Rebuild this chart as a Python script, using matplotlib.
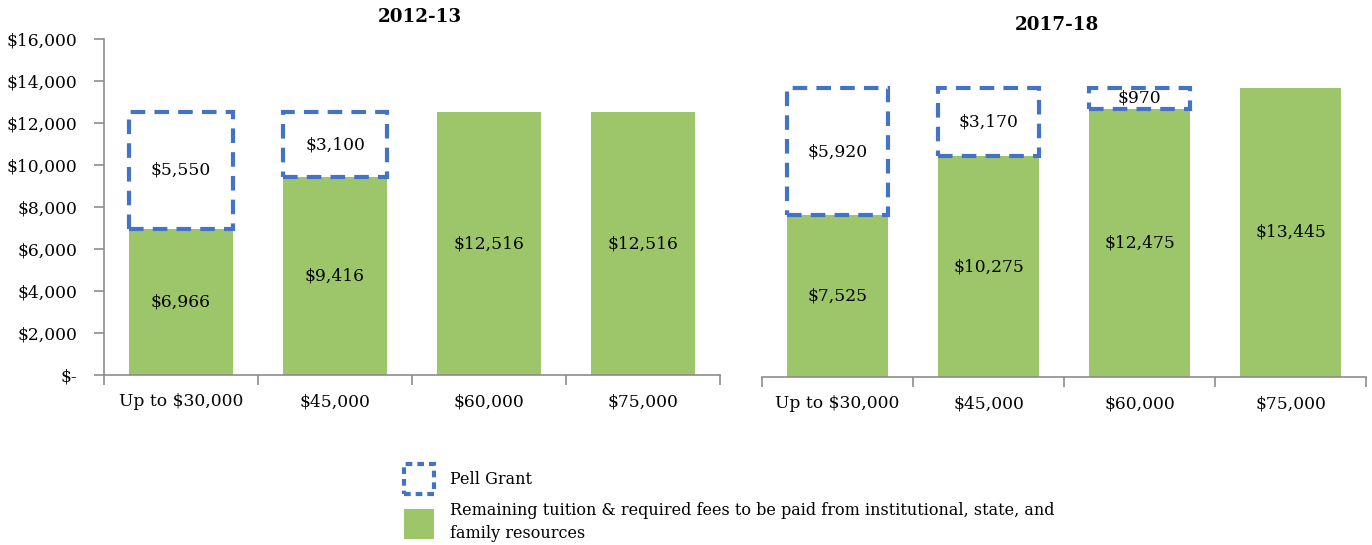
import matplotlib.pyplot as plt
from matplotlib.patches import Patch
from matplotlib.ticker import FuncFormatter

plt.rcParams['font.family'] = ['DejaVu Serif']

categories = ['Up to $30,000', '$45,000', '$60,000', '$75,000']
remaining_2012 = [6966, 9416, 12516, 12516]
pell_2012 = [5550, 3100, 0, 0]
remaining_2017 = [7525, 10275, 12475, 13445]
pell_2017 = [5920, 3170, 970, 0]

GREEN = '#9DC66B'
BLUE = '#4472C4'
AXIS = '#8C8C8C'
FS = 12.3

fig = plt.figure(figsize=(13.72, 5.45), dpi=100)
ax1 = fig.add_axes([104 / 1372, 170 / 545, 616 / 1372, 336 / 545])
ax2 = fig.add_axes([762 / 1372, 168 / 545, 604 / 1372, 344 / 545])


def draw_panel(ax, remaining, pell):
    x = list(range(len(categories)))
    ax.bar(x, remaining, width=0.675, color=GREEN, zorder=2)
    for i, (r, p) in enumerate(zip(remaining, pell)):
        ax.text(i, r / 2, f'${r:,}', ha='center', va='center', fontsize=FS, zorder=4)
        if p > 0:
            ax.bar(i, p, bottom=r, width=0.675, fill=False, edgecolor=BLUE,
                   linestyle=(0, (3.5, 2.2)), linewidth=3, zorder=3)
            ax.text(i, r + p / 2, f'${p:,}', ha='center', va='center', fontsize=FS, zorder=4)
    ax.set_xlim(-0.5, len(categories) - 0.5)
    ax.set_ylim(0, 16000)
    ax.set_xticks(x)
    ax.set_xticklabels(categories, fontsize=FS)
    ax.set_xticks([i - 0.5 for i in range(len(categories) + 1)], minor=True)
    ax.tick_params(axis='x', which='major', length=0, pad=13)
    ax.tick_params(axis='x', which='minor', length=7, color=AXIS, width=1.2)
    for s in ['top', 'right']:
        ax.spines[s].set_visible(False)
    ax.spines['bottom'].set_color(AXIS)
    ax.spines['bottom'].set_linewidth(1.2)


draw_panel(ax1, remaining_2012, pell_2012)
draw_panel(ax2, remaining_2017, pell_2017)

ax1.set_yticks(range(0, 16001, 2000))
ax1.yaxis.set_major_formatter(FuncFormatter(lambda v, _: '$-' if v == 0 else f'${v:,.0f}'))
ax1.tick_params(axis='y', labelsize=FS, length=7, color=AXIS, width=1.2, pad=12)
ax1.spines['left'].set_color(AXIS)
ax1.spines['left'].set_linewidth(1.2)

ax2.spines['left'].set_visible(False)
ax2.set_yticks([])

fig.text(420 / 1372, 1 - 17 / 545, '2012-13', ha='center', va='center', fontsize=13.2, fontweight='bold')
fig.text(1057 / 1372, 1 - 25 / 545, '2017-18', ha='center', va='center', fontsize=13.2, fontweight='bold')

handles = [
    Patch(facecolor='none', edgecolor=BLUE, linestyle=(0, (1.6, 1.2)), linewidth=3),
    Patch(facecolor=GREEN, edgecolor='none'),
]
labels = ['Pell Grant',
          'Remaining tuition & required fees to be paid from institutional, state, and\nfamily resources']
leg = fig.legend(handles, labels, loc='upper left', bbox_to_anchor=(390 / 1372, 1 - 450 / 545),
                 frameon=False, fontsize=11.5, handlelength=1.85, handleheight=2.5,
                 handletextpad=1.0, labelspacing=0.5)
for t in leg.get_texts():
    t.set_linespacing(1.45)

fig.savefig('out.png', dpi=100)
